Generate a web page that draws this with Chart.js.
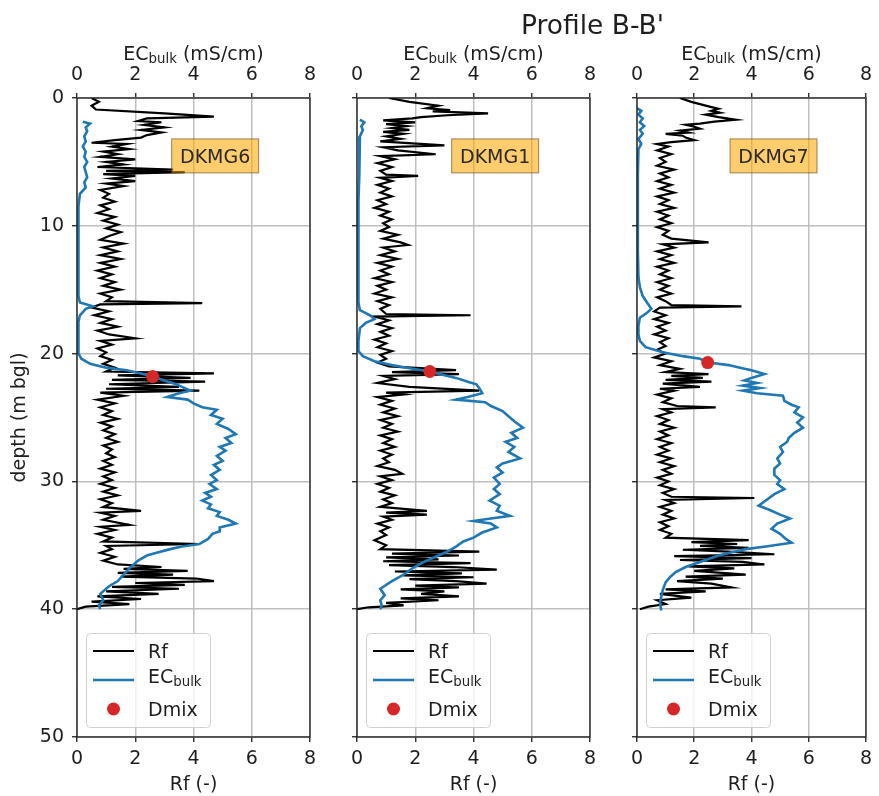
<!DOCTYPE html>
<html>
<head>
<meta charset="utf-8">
<script src="https://cdn.jsdelivr.net/npm/chart.js@4.4.0/dist/chart.umd.min.js"></script>
<style>
  html, body { margin: 0; padding: 0; background: #fff; }
  #wrap { position: relative; width: 879px; height: 796px; overflow: hidden; }
  canvas { position: absolute; top: 0; }
  #suptitle { position: absolute; left: 521px; top: 10px; font: 26.5px 'DejaVu Sans', sans-serif; line-height: 30px; color: #1e1e1e; white-space: nowrap; }
</style>
</head>
<body>
<div id="wrap">
  <canvas id="c1" width="330" height="796" style="left:0"></canvas>
  <canvas id="c2" width="273" height="796" style="left:337px"></canvas>
  <canvas id="c3" width="262" height="796" style="left:617px"></canvas>
  <div id="suptitle">Profile B-B'</div>
</div>
<script>
// profile data, [depth (m), value] pairs
const dkmg6Rf = [[0,0.5],[0.3,0.75],[0.6,0.5],[0.9,0.65],[1.2,3.0],[1.45,4.7],[1.6,2.4],[1.8,2.1],[1.9,2.9],[2.1,2.3],[2.3,3.0],[2.5,2.2],[2.7,2.9],[2.9,2.4],[3.1,2.2],[3.3,1.3],[3.5,0.5],[3.6,1.7],[3.8,1.2],[4.0,1.8],[4.2,0.9],[4.4,1.4],[4.6,0.8],[4.8,2.0],[5.0,1.0],[5.2,1.6],[5.4,0.7],[5.6,3.3],[5.7,1.0],[5.8,3.7],[5.95,0.9],[6.1,2.0],[6.3,1.2],[6.5,2.0],[6.7,1.0],[6.9,1.6],[7.2,0.8],[7.5,1.1],[7.8,0.9],[8.1,1.3],[8.4,0.8],[8.7,1.1],[9.0,0.7],[9.3,1.3],[9.6,0.9],[9.9,1.4],[10.2,1.0],[10.5,1.5],[10.8,1.1],[11.1,0.8],[11.4,1.6],[11.7,0.9],[12.0,1.4],[12.3,0.8],[12.6,1.5],[12.9,0.8],[13.2,1.3],[13.5,0.7],[13.8,1.2],[14.1,0.8],[14.4,1.3],[14.7,0.9],[15.0,1.5],[15.3,0.8],[15.6,1.2],[15.9,1.0],[16.05,4.3],[16.15,0.8],[16.4,0.5],[16.7,1.1],[17.0,0.6],[17.3,1.2],[17.6,0.8],[17.9,1.4],[18.2,0.7],[18.5,1.1],[18.8,2.0],[19.0,0.8],[19.3,1.2],[19.6,0.7],[19.9,1.0],[20.2,0.8],[20.5,1.2],[20.8,0.9],[21.1,1.3],[21.4,1.0],[21.55,4.7],[21.7,1.4],[21.9,3.9],[22.05,1.2],[22.2,4.4],[22.4,1.1],[22.6,3.5],[22.75,1.0],[22.9,4.2],[23.05,0.8],[23.3,1.6],[23.6,0.7],[23.9,1.3],[24.2,0.8],[24.5,1.2],[24.8,0.9],[25.1,1.4],[25.4,0.8],[25.7,1.2],[26.0,0.9],[26.3,1.3],[26.6,1.0],[26.9,1.4],[27.2,0.9],[27.5,1.2],[27.8,1.0],[28.1,1.3],[28.4,0.9],[28.7,1.2],[29.0,0.8],[29.3,1.3],[29.6,0.9],[29.9,1.2],[30.2,0.8],[30.5,1.3],[30.8,0.9],[31.1,1.4],[31.4,0.8],[31.7,1.2],[32.0,0.9],[32.3,2.2],[32.45,0.8],[32.7,1.3],[33.0,0.9],[33.4,1.8],[33.55,0.8],[33.8,1.3],[34.1,0.7],[34.4,1.2],[34.7,0.9],[34.9,4.2],[35.05,1.0],[35.3,1.2],[35.6,0.8],[35.9,1.3],[36.2,0.9],[36.5,1.4],[36.7,2.9],[36.85,1.6],[37.0,3.8],[37.15,1.4],[37.3,3.3],[37.45,1.5],[37.6,4.1],[37.8,4.7],[37.95,2.0],[38.1,3.7],[38.25,1.2],[38.4,3.5],[38.6,1.0],[38.8,2.8],[39.0,0.7],[39.2,2.2],[39.4,0.5],[39.6,1.8],[39.8,0.3],[40.0,0.0]];
const dkmg6Ec = [[1.85,0.2],[2.0,0.45],[2.3,0.3],[2.6,0.35],[3.0,0.25],[3.4,0.3],[3.8,0.2],[4.2,0.3],[4.6,0.25],[5.0,0.35],[5.4,0.25],[5.8,0.3],[6.2,0.35],[6.6,0.25],[7.0,0.3],[7.5,0.1],[8.5,0.05],[10,0.05],[12,0.05],[14,0.05],[15.5,0.05],[16.0,0.1],[16.3,0.55],[16.5,0.3],[17.0,0.1],[17.5,0.05],[18.5,0.05],[19.5,0.05],[20.0,0.05],[20.4,0.15],[20.8,0.45],[21.1,1.0],[21.3,1.7],[21.55,2.2],[21.8,2.6],[22.1,3.0],[22.4,3.4],[22.7,3.7],[22.9,3.9],[23.1,3.5],[23.4,3.1],[23.6,3.8],[23.9,4.0],[24.2,4.3],[24.4,4.8],[24.8,4.6],[25.1,5.0],[25.5,4.8],[25.9,5.2],[26.3,5.45],[26.6,5.1],[27.0,5.3],[27.3,4.9],[27.6,5.1],[28.0,4.8],[28.4,5.0],[28.7,4.7],[29.1,4.9],[29.5,4.6],[29.9,4.8],[30.2,4.55],[30.6,4.8],[30.9,4.4],[31.2,4.6],[31.5,4.3],[31.8,4.6],[32.1,4.5],[32.4,4.9],[32.7,4.8],[33.0,5.2],[33.3,5.45],[33.6,4.9],[33.9,4.9],[34.1,4.65],[34.5,4.5],[34.9,4.2],[35.1,3.6],[35.3,3.2],[35.6,2.7],[35.8,2.4],[36.2,2.1],[36.8,1.8],[37.3,1.6],[37.8,1.4],[38.2,1.1],[38.8,0.8],[39.3,0.9],[39.7,0.75],[40.0,0.8]];
const dkmg6Dmix = [[21.8,2.6]];

const dkmg1Rf = [[0,1.1],[0.3,1.8],[0.6,2.8],[0.8,2.4],[0.95,3.2],[1.05,2.6],[1.2,4.5],[1.35,3.1],[1.5,2.2],[1.6,1.9],[1.75,0.9],[1.9,2.0],[2.05,1.0],[2.2,1.7],[2.35,1.2],[2.5,1.8],[2.65,0.9],[2.8,1.6],[3.0,1.0],[3.2,1.5],[3.4,0.8],[3.7,3.0],[3.85,0.9],[4.1,1.4],[4.4,2.7],[4.55,0.8],[4.8,1.3],[5.1,0.7],[5.4,1.2],[5.7,0.8],[6.0,1.0],[6.1,2.1],[6.25,0.8],[6.5,1.2],[6.8,0.7],[7.1,1.1],[7.4,0.8],[7.7,1.2],[8.0,0.7],[8.3,1.0],[8.6,0.6],[8.9,1.1],[9.2,0.8],[9.5,1.2],[9.8,0.9],[10.1,1.1],[10.4,0.8],[10.7,1.4],[11.0,0.9],[11.3,1.5],[11.5,1.75],[11.7,0.9],[12.0,1.3],[12.3,0.8],[12.6,1.4],[12.9,0.7],[13.2,1.2],[13.5,0.8],[13.8,1.1],[14.1,0.6],[14.4,1.2],[14.7,0.7],[15.0,1.0],[15.3,0.6],[15.6,1.2],[15.9,0.7],[16.2,1.1],[16.5,0.8],[16.9,1.0],[17.0,3.9],[17.1,0.6],[17.4,1.1],[17.7,0.7],[18.0,1.2],[18.3,0.8],[18.6,1.1],[18.9,0.6],[19.2,1.0],[19.5,0.7],[19.8,1.2],[20.1,0.8],[20.4,1.0],[20.7,0.7],[21.0,1.1],[21.3,3.4],[21.45,1.2],[21.6,3.5],[21.75,0.9],[22.0,1.3],[22.3,0.7],[22.6,1.8],[22.9,4.2],[23.05,1.0],[23.2,1.6],[23.4,0.7],[23.7,1.2],[24.0,0.8],[24.3,1.3],[24.6,0.9],[24.9,1.4],[25.2,0.8],[25.5,1.2],[25.8,0.9],[26.1,1.4],[26.4,0.8],[26.7,1.2],[27.0,0.9],[27.3,1.3],[27.6,0.8],[27.9,1.2],[28.2,0.9],[28.5,1.1],[28.8,0.7],[29.1,1.3],[29.4,1.55],[29.6,0.8],[29.9,1.2],[30.2,0.7],[30.5,1.1],[30.8,0.8],[31.1,1.3],[31.4,0.9],[31.7,1.2],[32.0,0.8],[32.3,2.4],[32.45,1.0],[32.6,2.4],[32.75,0.9],[33.0,1.2],[33.3,0.7],[33.6,1.1],[33.9,0.8],[34.2,1.0],[34.6,0.6],[35.0,1.0],[35.3,0.8],[35.5,4.2],[35.65,1.2],[35.8,3.5],[35.95,1.0],[36.1,2.8],[36.25,0.9],[36.4,3.9],[36.55,1.1],[36.7,3.3],[36.9,4.8],[37.05,1.3],[37.2,3.6],[37.35,1.6],[37.5,4.0],[37.65,1.8],[37.8,3.4],[38.0,4.45],[38.15,2.0],[38.3,3.5],[38.45,1.5],[38.6,3.0],[38.8,2.2],[39.0,3.5],[39.15,1.5],[39.3,2.8],[39.5,1.0],[39.7,1.6],[39.85,0.4],[40.0,0.0]];
const dkmg1Ec = [[1.7,0.1],[1.9,0.25],[2.2,0.15],[2.5,0.2],[3.0,0.1],[4,0.08],[6,0.08],[8,0.05],[10,0.05],[12,0.05],[14,0.05],[16,0.05],[16.6,0.1],[17.0,0.45],[17.3,0.6],[17.6,0.3],[18.0,0.1],[19.0,0.05],[19.8,0.05],[20.2,0.2],[20.6,0.6],[20.9,1.2],[21.1,1.7],[21.4,2.5],[21.7,3.0],[21.9,3.4],[22.2,3.8],[22.4,4.1],[22.7,4.2],[23.1,4.3],[23.4,3.8],[23.6,3.4],[23.8,4.4],[24.1,4.6],[24.5,5.0],[24.9,5.2],[25.3,5.4],[25.8,5.7],[26.2,5.3],[26.6,5.5],[26.9,5.1],[27.3,5.4],[27.7,5.2],[28.2,5.6],[28.6,5.0],[28.9,4.8],[29.3,5.0],[29.7,4.7],[30.2,4.9],[30.6,4.7],[31.0,4.9],[31.5,4.55],[31.9,4.9],[32.3,4.8],[32.7,5.25],[32.9,4.6],[33.1,4.0],[33.3,4.6],[33.6,4.8],[34.0,4.3],[34.4,4.0],[34.7,3.65],[35.1,3.4],[35.5,3.1],[35.9,2.7],[36.3,2.3],[36.8,1.9],[37.3,1.6],[37.8,1.2],[38.4,0.8],[38.9,0.95],[39.3,0.8],[39.7,0.85],[40.0,0.8]];
const dkmg1Dmix = [[21.4,2.5]];

const dkmg7Rf = [[0,1.5],[0.3,1.9],[0.6,2.4],[0.85,2.85],[1.0,2.6],[1.15,2.9],[1.3,2.4],[1.5,2.85],[1.7,3.45],[1.85,2.7],[2.0,2.2],[2.1,1.7],[2.25,2.0],[2.4,2.2],[2.55,1.5],[2.7,1.8],[2.8,1.0],[2.95,1.6],[3.1,1.7],[3.3,2.0],[3.45,1.2],[3.6,0.7],[3.8,1.1],[4.1,0.7],[4.4,1.2],[4.7,0.8],[5.0,1.0],[5.3,0.7],[5.6,1.3],[5.9,0.8],[6.2,1.1],[6.5,0.7],[6.8,1.2],[7.1,0.8],[7.4,1.3],[7.7,0.7],[8.0,1.1],[8.3,0.8],[8.6,1.3],[8.9,0.7],[9.2,1.1],[9.5,0.8],[9.8,1.2],[10.1,0.7],[10.4,1.1],[10.7,0.9],[11.0,1.2],[11.3,2.5],[11.45,0.9],[11.7,1.3],[12.0,0.7],[12.3,1.2],[12.6,0.8],[12.9,1.3],[13.2,0.7],[13.5,1.1],[13.8,0.8],[14.1,1.2],[14.4,0.7],[14.7,1.1],[15.0,0.8],[15.3,1.2],[15.6,0.7],[15.9,1.0],[16.2,1.2],[16.3,3.65],[16.4,0.8],[16.7,0.6],[17.0,1.0],[17.3,0.6],[17.6,1.1],[17.9,0.7],[18.2,1.0],[18.5,0.6],[18.8,1.1],[19.1,0.8],[19.4,1.0],[19.7,0.7],[20.0,1.0],[20.3,0.6],[20.6,1.2],[20.9,0.8],[21.2,1.5],[21.45,1.0],[21.6,2.5],[21.75,1.2],[21.9,2.3],[22.05,1.0],[22.2,2.6],[22.35,0.9],[22.6,2.2],[22.75,0.8],[22.9,1.3],[23.2,0.7],[23.5,1.2],[23.8,0.9],[24.1,1.4],[24.2,2.75],[24.35,0.9],[24.6,1.2],[24.9,0.7],[25.2,1.1],[25.5,0.8],[25.8,1.3],[26.1,0.8],[26.4,1.1],[26.7,0.7],[27.0,1.2],[27.3,0.8],[27.6,1.1],[27.9,0.7],[28.2,1.2],[28.5,0.8],[28.8,1.3],[29.1,0.9],[29.4,1.2],[29.7,0.7],[30.0,1.1],[30.3,0.8],[30.6,1.3],[30.9,0.9],[31.2,1.2],[31.3,4.1],[31.45,1.0],[31.7,1.3],[32.0,0.8],[32.3,1.2],[32.6,0.9],[32.9,1.3],[33.2,0.8],[33.5,1.1],[33.8,0.8],[34.1,1.2],[34.4,1.0],[34.6,3.9],[34.75,1.9],[34.9,3.5],[35.05,2.2],[35.2,3.9],[35.35,1.6],[35.5,3.2],[35.7,4.8],[35.85,1.3],[36.0,4.0],[36.15,1.5],[36.3,3.7],[36.5,4.45],[36.65,1.8],[36.8,3.4],[37.0,2.0],[37.3,3.8],[37.45,1.7],[37.6,3.0],[37.8,1.4],[38.0,2.6],[38.3,3.3],[38.45,1.0],[38.6,2.4],[38.8,0.8],[39.1,1.9],[39.3,0.7],[39.6,1.0],[39.8,0.4],[40.0,0.1]];
const dkmg7Ec = [[0.8,0.0],[1.0,0.15],[1.3,0.05],[1.6,0.2],[1.9,0.1],[2.2,0.25],[2.5,0.1],[2.8,0.2],[3.2,0.05],[3.6,0.15],[4.0,0.05],[6,0.03],[8,0.03],[10,0.03],[12,0.03],[14,0.05],[14.8,0.1],[15.5,0.2],[16.0,0.35],[16.5,0.5],[16.8,0.35],[17.2,0.1],[17.8,0.05],[18.5,0.05],[19.0,0.1],[19.5,0.3],[19.9,0.9],[20.2,1.6],[20.4,2.2],[20.7,2.5],[20.9,3.2],[21.1,3.6],[21.3,4.0],[21.6,4.45],[21.9,4.0],[22.1,3.75],[22.3,4.2],[22.5,3.7],[22.7,4.3],[22.9,3.7],[23.1,4.2],[23.3,5.1],[23.7,5.15],[24.0,5.4],[24.2,5.65],[24.6,5.5],[25.0,5.8],[25.4,5.6],[25.8,5.8],[26.2,5.5],[26.6,5.3],[26.9,5.25],[27.3,5.0],[27.7,5.1],[28.2,4.9],[28.6,5.0],[29.0,4.8],[29.5,4.8],[29.9,5.0],[30.2,4.9],[30.6,5.15],[31.0,4.8],[31.5,4.5],[31.9,4.25],[32.2,4.6],[32.6,5.0],[32.9,5.35],[33.3,4.9],[33.7,4.7],[34.1,5.0],[34.5,5.2],[34.8,5.4],[35.1,4.5],[35.3,3.8],[35.6,3.2],[35.8,2.85],[36.3,2.2],[36.7,1.7],[37.1,1.35],[37.5,1.15],[37.9,1.0],[38.5,0.9],[39.0,0.85],[39.5,0.8],[40.1,0.85]];
const dkmg7Dmix = [[20.7,2.47]];

const xTicks = [0, 2, 4, 6, 8];
const depthTicks = [0, 10, 20, 30, 40, 50];
const wellNames = ['DKMG6', 'DKMG1', 'DKMG7'];

const FONT = "'DejaVu Sans', sans-serif";
const INK = '#1e1e1e';
const GRID = '#bfbfbf';
const RF_COLOR = '#000000';
const EC_COLOR = '#1f77b4';
const DMIX_COLOR = '#d62728';

const toXY = pairs => pairs.map(([d, v]) => ({ x: v, y: d }));

// text with a lowered subscript part, e.g. EC_bulk
function drawSub(ctx, x, y, base, sub, tail, size, align) {
  const big = size + 'px ' + FONT, small = (size * 0.7) + 'px ' + FONT;
  ctx.font = big;
  const w1 = ctx.measureText(base).width, w3 = ctx.measureText(tail).width;
  ctx.font = small;
  const w2 = ctx.measureText(sub).width;
  let sx = align === 'center' ? x - (w1 + w2 + w3) / 2 : x;
  ctx.textAlign = 'left';
  ctx.textBaseline = 'alphabetic';
  ctx.font = big; ctx.fillText(base, sx, y); sx += w1;
  ctx.font = small; ctx.fillText(sub, sx, y + 3); sx += w2;
  ctx.font = big; ctx.fillText(tail, sx, y);
}

const decor = {
  id: 'decor',
  afterDatasetsDraw(chart, args, opts) {
    const { ctx, chartArea: a, scales } = chart;
    ctx.save();

    // spines
    ctx.strokeStyle = '#1a1a1a';
    ctx.lineWidth = 1.3;
    ctx.strokeRect(a.left, a.top, a.right - a.left, a.bottom - a.top);

    // top axis title
    ctx.fillStyle = INK;
    drawSub(ctx, (a.left + a.right) / 2, 59.5, 'EC', 'bulk', ' (mS/cm)', 19, 'center');

    // well name box
    const bx = scales.x.getPixelForValue(3.25), by = scales.y.getPixelForValue(3.2);
    ctx.fillStyle = 'rgba(255,165,0,0.57)';
    ctx.fillRect(bx, by, 87, 34);
    ctx.strokeStyle = 'rgba(70,50,10,0.55)';
    ctx.lineWidth = 1;
    ctx.strokeRect(bx, by, 87, 34);
    ctx.fillStyle = '#2b2b2b';
    ctx.font = '19px ' + FONT;
    ctx.textAlign = 'center';
    ctx.textBaseline = 'alphabetic';
    ctx.fillText(opts.well, bx + 43.5, by + 24);

    // legend
    const lx = a.left + 9, ly = a.bottom - 104;
    ctx.fillStyle = 'rgba(255,255,255,0.8)';
    ctx.strokeStyle = '#d0d0d0';
    ctx.lineWidth = 1;
    ctx.beginPath();
    ctx.roundRect(lx + 0.5, ly + 0.5, 124, 94, 4);
    ctx.fill();
    ctx.stroke();

    const ds = chart.data.datasets;
    ctx.lineWidth = ds[0].borderWidth;
    ctx.strokeStyle = ds[0].borderColor;
    ctx.beginPath(); ctx.moveTo(lx + 7, ly + 18); ctx.lineTo(lx + 48, ly + 18); ctx.stroke();
    ctx.lineWidth = ds[1].borderWidth;
    ctx.strokeStyle = ds[1].borderColor;
    ctx.beginPath(); ctx.moveTo(lx + 7, ly + 47); ctx.lineTo(lx + 48, ly + 47); ctx.stroke();
    ctx.fillStyle = ds[2].backgroundColor;
    ctx.beginPath(); ctx.arc(lx + 27.5, ly + 76, ds[2].pointRadius, 0, Math.PI * 2); ctx.fill();

    ctx.fillStyle = INK;
    ctx.font = '19px ' + FONT;
    ctx.textAlign = 'left';
    ctx.fillText(ds[0].label, lx + 62, ly + 25);
    drawSub(ctx, lx + 62, ly + 50, 'EC', 'bulk', '', 19, 'left');
    ctx.font = '19px ' + FONT;
    ctx.fillText(ds[2].label, lx + 62, ly + 83);

    ctx.restore();
  }
};

const panels = [
  { id: 'c1', rf: dkmg6Rf, ec: dkmg6Ec, dmix: dkmg6Dmix, axisWidth: 77, padRight: 20, showDepth: true },
  { id: 'c2', rf: dkmg1Rf, ec: dkmg1Ec, dmix: dkmg1Dmix, axisWidth: 20, padRight: 20, showDepth: false },
  { id: 'c3', rf: dkmg7Rf, ec: dkmg7Ec, dmix: dkmg7Dmix, axisWidth: 20, padRight: 10, showDepth: false }
];

const tickFont = { family: FONT, size: 19 };
const gridOpts = { color: GRID, lineWidth: 1.5, tickLength: 5, tickColor: INK, tickWidth: 1.3 };

panels.forEach(function (p, i) {
  new Chart(document.getElementById(p.id), {
    type: 'scatter',
    data: {
      datasets: [
        { label: 'Rf', data: toXY(p.rf), xAxisID: 'x', showLine: true, borderColor: RF_COLOR, borderWidth: 2.2, pointRadius: 0, order: 2 },
        { label: 'ECbulk', data: toXY(p.ec), xAxisID: 'x2', showLine: true, borderColor: EC_COLOR, borderWidth: 2.6, pointRadius: 0, order: 1 },
        { label: 'Dmix', data: toXY(p.dmix), xAxisID: 'x2', showLine: false, backgroundColor: DMIX_COLOR, borderColor: DMIX_COLOR, borderWidth: 0, pointRadius: 6.5, order: 0 }
      ]
    },
    options: {
      responsive: false,
      animation: false,
      events: [],
      layout: { padding: { left: 0, right: p.padRight, top: 0, bottom: 0 } },
      plugins: { legend: { display: false }, tooltip: { enabled: false }, decor: { well: wellNames[i] } },
      scales: {
        x: {
          type: 'linear', position: 'bottom', min: 0, max: 8,
          afterBuildTicks: s => { s.ticks = xTicks.map(v => ({ value: v })); },
          ticks: { padding: 6, font: tickFont, color: INK },
          grid: gridOpts,
          border: { display: false },
          title: { display: true, text: 'Rf (-)', font: tickFont, color: INK, padding: { top: 0, bottom: 0 } },
          afterFit: s => { s.height = 59; }
        },
        x2: {
          type: 'linear', position: 'top', min: 0, max: 8,
          afterBuildTicks: s => { s.ticks = xTicks.map(v => ({ value: v })); },
          ticks: { padding: 7, font: tickFont, color: INK },
          grid: Object.assign({}, gridOpts, { drawOnChartArea: false }),
          border: { display: false },
          afterFit: s => { s.height = 98; }
        },
        y: {
          type: 'linear', position: 'left', reverse: true, min: 0, max: 50,
          afterBuildTicks: s => { s.ticks = depthTicks.map(v => ({ value: v })); },
          ticks: { padding: 8, font: tickFont, color: INK, callback: v => (p.showDepth ? String(v) : '') },
          grid: gridOpts,
          border: { display: false },
          title: { display: p.showDepth, text: 'depth (m bgl)', font: tickFont, color: INK, padding: { top: 8.6, bottom: 0 } },
          afterFit: s => { s.width = p.axisWidth; }
        }
      }
    },
    plugins: [decor]
  });
});
</script>
</body>
</html>
